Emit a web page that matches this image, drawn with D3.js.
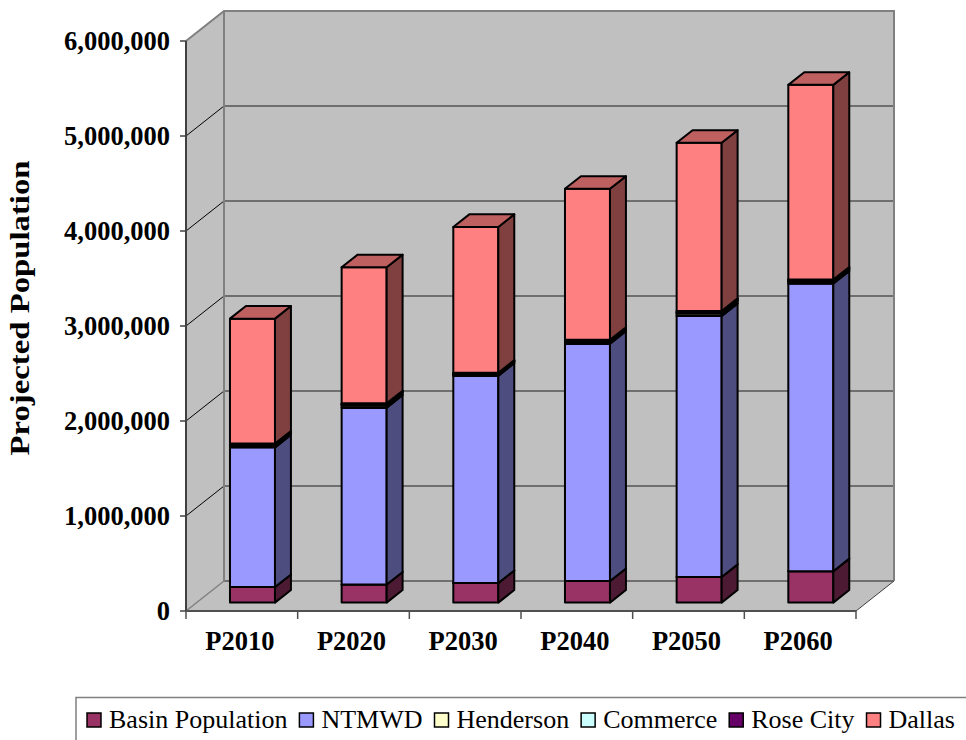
<!DOCTYPE html>
<html>
<head>
<meta charset="utf-8">
<script src="https://cdn.jsdelivr.net/npm/d3@7"></script>
<style>
  html, body { margin: 0; padding: 0; background: #fff; }
  svg { display: block; }
  text { font-family: "Liberation Serif", "Times New Roman", serif; }
</style>
</head>
<body>
<svg id="chart" width="966" height="740"></svg>
<script>
// ---- data ----
const categories = ["P2010", "P2020", "P2030", "P2040", "P2050", "P2060"];
const basinPopulation = [164000, 190000, 206000, 227000, 270000, 330000];
const ntmwd = [1470000, 1862000, 2183000, 2499000, 2747000, 3028000];
const henderson = [20000, 24000, 16000, 20000, 26000, 20000];
const commerce = [9000, 10000, 7000, 10000, 12000, 10000];
const roseCity = [11000, 12000, 8000, 10000, 15000, 12000];
const dallas = [1315000, 1432000, 1534000, 1590000, 1770000, 2050000];
const seriesNames = ["Basin Population", "NTMWD", "Henderson", "Commerce", "Rose City", "Dallas"];
const seriesColors = ["#993366", "#9999FF", "#FFFFCC", "#CCFFFF", "#660066", "#FF8080"];
const yTickValues = [0, 1000000, 2000000, 3000000, 4000000, 5000000, 6000000];
const yTitle = "Projected Population";

// ---- layout ----
const svg = d3.select("#chart");
const X0 = 186, X1 = 856, YB = 611, YT = 41;
const DX = 38, DY = 30;          // full depth offset
const F0 = 0.28, F1 = 0.70;     // bar front/back depth fractions
const BAR_W = 45;

const y = d3.scaleLinear().domain([0, 6000000]).range([YB, YT]);
const x = d3.scaleBand().domain(categories).range([X0, X1]).padding(0);
const P = (xf, v, d) => [xf + d * DX, y(v) - d * DY];
const poly = pts => "M" + pts.map(p => p.join(",")).join("L") + "Z";

const gray = "#C0C0C0";
// back wall
svg.append("path").attr("d", poly([P(X0, 0, 1), P(X0, 6e6, 1), P(X1, 6e6, 1), P(X1, 0, 1)]))
  .attr("fill", gray).attr("stroke", "none");
// left wall
svg.append("path").attr("d", poly([P(X0, 0, 0), P(X0, 6e6, 0), P(X0, 6e6, 1), P(X0, 0, 1)]))
  .attr("fill", gray).attr("stroke", "none");
// floor
svg.append("path").attr("d", poly([P(X0, 0, 0), P(X1, 0, 0), P(X1, 0, 1), P(X0, 0, 1)]))
  .attr("fill", gray).attr("stroke", "none");

// back wall gridlines
svg.append("g").selectAll("line").data(yTickValues.filter(v => v > 0 && v < 6e6)).join("line")
  .attr("x1", v => P(X0, v, 1)[0]).attr("y1", v => P(X0, v, 1)[1])
  .attr("x2", v => P(X1, v, 1)[0]).attr("y2", v => P(X1, v, 1)[1])
  .attr("stroke", "#555").attr("stroke-width", 1.6);
// floor back edge
svg.append("line")
  .attr("x1", P(X0, 0, 1)[0]).attr("y1", P(X0, 0, 1)[1])
  .attr("x2", P(X1, 0, 1)[0]).attr("y2", P(X1, 0, 1)[1])
  .attr("stroke", "#555").attr("stroke-width", 1.6);
// left wall depth gridlines
svg.append("g").selectAll("line").data(yTickValues.filter(v => v > 0 && v < 6e6)).join("line")
  .attr("x1", v => P(X0, v, 0)[0]).attr("y1", v => P(X0, v, 0)[1])
  .attr("x2", v => P(X0, v, 1)[0]).attr("y2", v => P(X0, v, 1)[1])
  .attr("stroke", "#000").attr("stroke-width", 1);
// wall outer edges (light gray)
svg.append("path")
  .attr("d", "M" + [P(X0, 6e6, 0), P(X0, 6e6, 1), P(X1, 6e6, 1), P(X1, 0, 1)].map(p => p.join(",")).join("L"))
  .attr("fill", "none").attr("stroke", "#808080").attr("stroke-width", 2);
svg.append("line")
  .attr("x1", P(X0, 0, 1)[0]).attr("y1", P(X0, 0, 1)[1])
  .attr("x2", P(X0, 6e6, 1)[0]).attr("y2", P(X0, 6e6, 1)[1])
  .attr("stroke", "#808080").attr("stroke-width", 2);
svg.append("line")
  .attr("x1", P(X0, 0, 0)[0]).attr("y1", P(X0, 0, 0)[1])
  .attr("x2", P(X0, 0, 1)[0]).attr("y2", P(X0, 0, 1)[1])
  .attr("stroke", "#808080").attr("stroke-width", 1.5);
svg.append("line")
  .attr("x1", P(X1, 0, 0)[0]).attr("y1", P(X1, 0, 0)[1])
  .attr("x2", P(X1, 0, 1)[0]).attr("y2", P(X1, 0, 1)[1])
  .attr("stroke", "#404040").attr("stroke-width", 1);

// ---- bars ----
const seriesValues = [basinPopulation, ntmwd, henderson, commerce, roseCity, dallas];
const stackData = categories.map((c, i) => {
  const o = { cat: c };
  seriesNames.forEach((s, k) => { o[s] = seriesValues[k][i]; });
  return o;
});
const stacked = d3.stack().keys(seriesNames)(stackData);
const shade = (c, f) => { const r = d3.rgb(c); return d3.rgb(r.r * f, r.g * f, r.b * f).formatHex(); };

const barsG = svg.append("g");
categories.forEach((c, i) => {
  const xl = x(c) + x.bandwidth() / 2 - BAR_W / 2;
  const xr = xl + BAR_W;
  stacked.forEach((layer, k) => {
    const v0 = layer[i][0], v1 = layer[i][1];
    const col = seriesColors[k];
    const g = barsG.append("g").attr("stroke", "#000").attr("stroke-width", 2).attr("stroke-linejoin", "round");
    // front
    g.append("path").attr("d", poly([P(xl, v0, F0), P(xr, v0, F0), P(xr, v1, F0), P(xl, v1, F0)])).attr("fill", col);
    // side
    g.append("path").attr("d", poly([P(xr, v0, F0), P(xr, v0, F1), P(xr, v1, F1), P(xr, v1, F0)])).attr("fill", shade(col, 0.5));
    // top
    g.append("path").attr("d", poly([P(xl, v1, F0), P(xr, v1, F0), P(xr, v1, F1), P(xl, v1, F1)])).attr("fill", shade(col, 0.75));
  });
});

// ---- axes ----
// y-axis line & ticks
svg.append("line").attr("x1", X0).attr("x2", X0).attr("y1", y(0)).attr("y2", y(6e6))
  .attr("stroke", "#404040").attr("stroke-width", 2);
svg.append("g").selectAll("line").data(yTickValues).join("line")
  .attr("x1", X0 - 6).attr("x2", X0).attr("y1", v => y(v)).attr("y2", v => y(v))
  .attr("stroke", "#404040").attr("stroke-width", 1.5);
svg.append("g").selectAll("text").data(yTickValues).join("text")
  .attr("x", 170).attr("y", v => y(v)).attr("dy", "0.34em")
  .attr("text-anchor", "end").attr("font-size", 26.5).attr("font-weight", "bold").attr("fill", "#000")
  .text(d3.format(","));
// x-axis line & ticks
svg.append("line").attr("x1", X0).attr("x2", X1).attr("y1", YB).attr("y2", YB)
  .attr("stroke", "#505050").attr("stroke-width", 2);
const xTickPos = categories.map(c => x(c)).concat([X1]);
svg.append("g").selectAll("line").data(xTickPos).join("line")
  .attr("x1", d => d).attr("x2", d => d).attr("y1", YB).attr("y2", YB + 8)
  .attr("stroke", "#505050").attr("stroke-width", 1.5);
svg.append("g").selectAll("text").data(categories).join("text")
  .attr("x", c => x(c) + x.bandwidth() / 2 - 2).attr("y", 650)
  .attr("text-anchor", "middle").attr("font-size", 26.5).attr("font-weight", "bold").attr("fill", "#000")
  .text(c => c);
// y title
svg.append("text")
  .attr("transform", "translate(29,308) rotate(-90)")
  .attr("text-anchor", "middle").attr("font-size", 26.5).attr("font-weight", "bold").attr("fill", "#000")
  .attr("textLength", 295).attr("lengthAdjust", "spacingAndGlyphs")
  .text(yTitle);

// ---- legend ----
const lg = svg.append("g");
lg.append("rect").attr("x", 76).attr("y", 697.5).attr("width", 960).attr("height", 80)
  .attr("fill", "#fff").attr("stroke", "#808080").attr("stroke-width", 1.5);
let lx = 87;
seriesNames.forEach((name, k) => {
  lg.append("rect").attr("x", lx).attr("y", 713).attr("width", 14).attr("height", 14)
    .attr("fill", seriesColors[k]).attr("stroke", "#000").attr("stroke-width", 1.5);
  const t = lg.append("text").attr("x", lx + 22).attr("y", 728)
    .attr("font-size", 26).attr("fill", "#000").text(name);
  const w = t.node().getComputedTextLength();
  lx = lx + 22 + w + 12;
});
</script>
</body>
</html>
